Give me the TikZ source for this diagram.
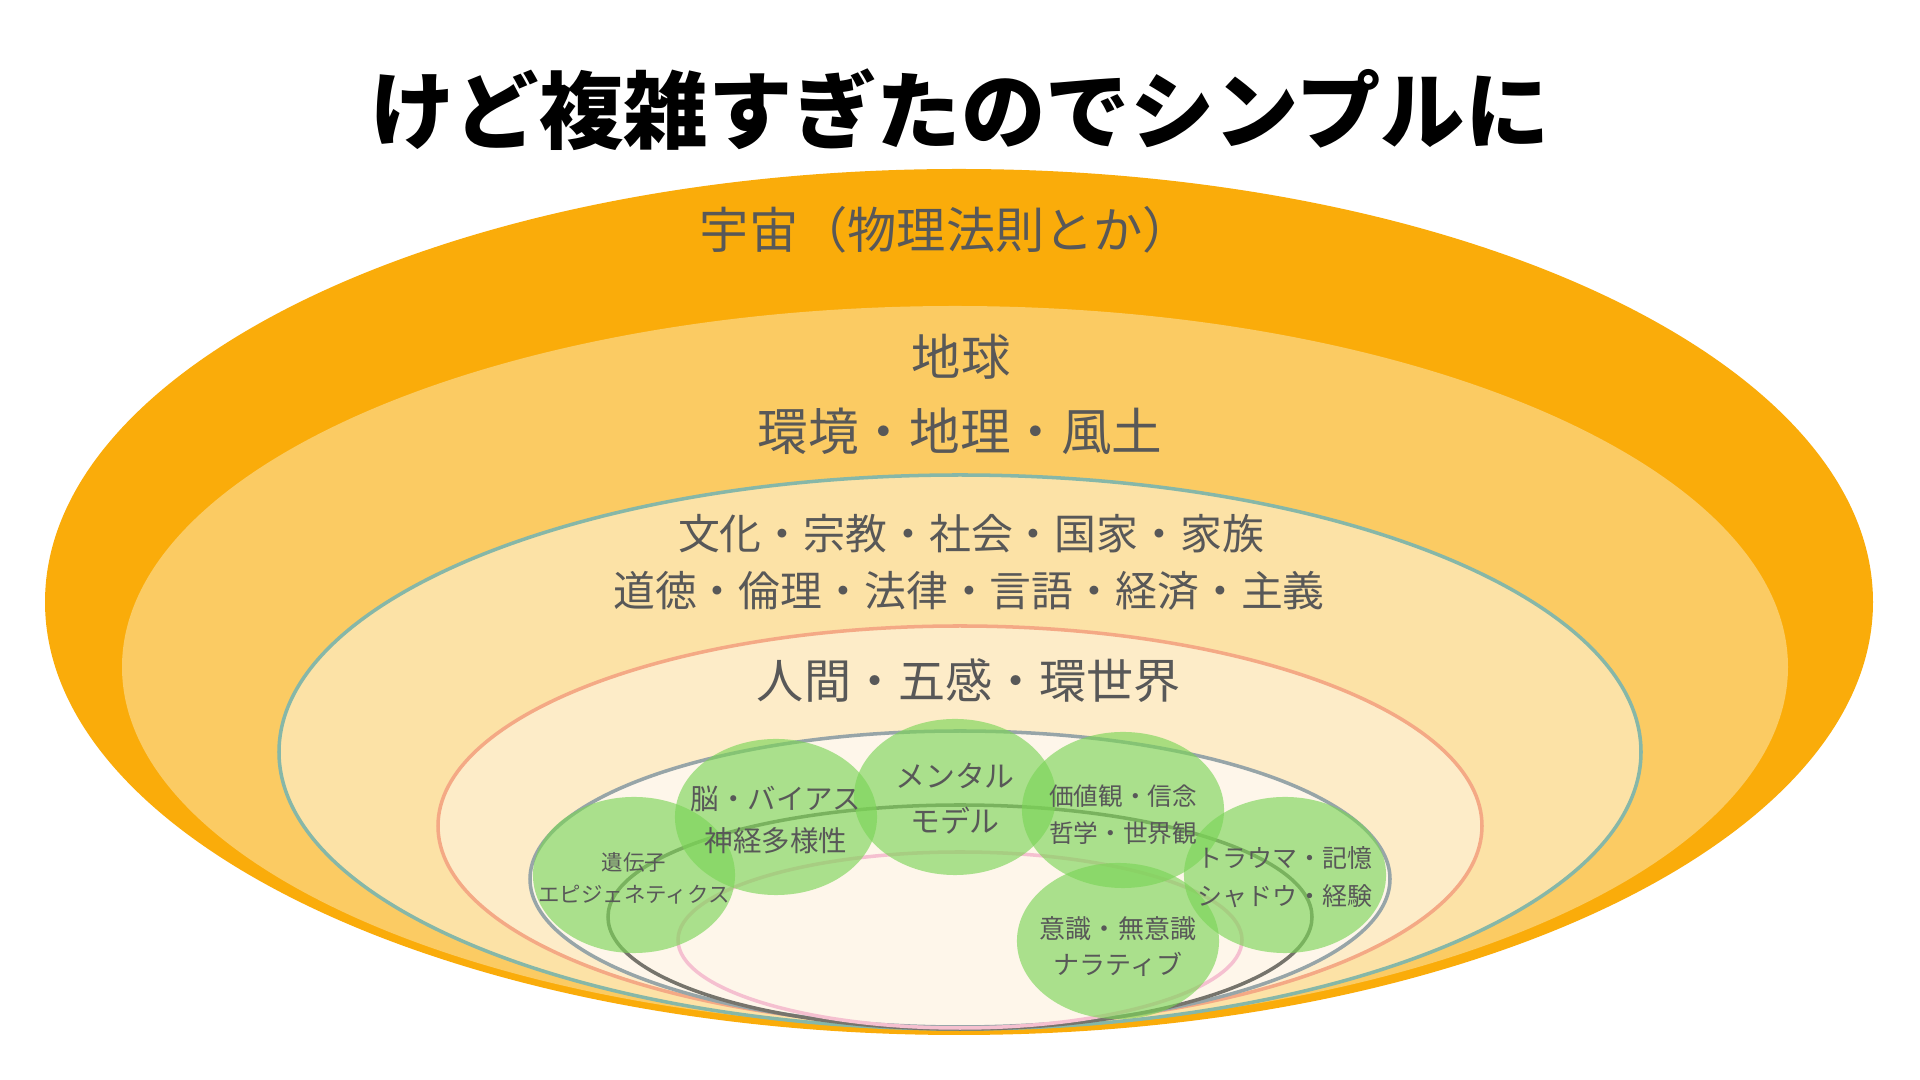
\documentclass[tikz,border=0pt]{standalone}
\usepackage{fontspec}
\setmainfont{Noto Sans CJK JP}
\usepackage{tikz}
\usetikzlibrary{shapes.geometric}
\definecolor{uchuu}{RGB}{250,172,10}
\definecolor{chikyuu}{RGB}{251,203,99}
\definecolor{bunka}{RGB}{252,226,166}
\definecolor{ningen}{RGB}{253,236,200}
\definecolor{kokoro}{RGB}{254,246,234}
\definecolor{tealrim}{RGB}{134,183,168}
\definecolor{salmonrim}{RGB}{244,169,133}
\definecolor{grayrim}{RGB}{151,165,168}
\definecolor{darkrim}{RGB}{118,116,108}
\definecolor{pinkrim}{RGB}{245,192,208}
\definecolor{blobgreen}{RGB}{123,213,87}
\definecolor{inkgray}{RGB}{88,88,88}

\begin{document}
\begin{tikzpicture}[x=0.01cm,y=-0.01cm,
  rim/.style={line width=1pt},
  lbl/.style={text=inkgray, inner sep=0pt},
  blob/.style={ellipse, fill=blobgreen, fill opacity=0.64,
    minimum width=2.02cm, minimum height=1.56cm, inner sep=0pt},
  blobtext/.style={text=inkgray, inner sep=0pt, align=center}]
%-------->frame<--------------
\fill[white] (0,0) rectangle (1920,1080);
\useasboundingbox (0,0) rectangle (1920,1080);
%-------->layers<--------------
\fill[uchuu] (959,602) ellipse [x radius=914, y radius=433]; % universe
\fill[chikyuu] (955,667) ellipse [x radius=833, y radius=361]; % earth
\filldraw[fill=bunka, draw=tealrim, rim] (960,752) ellipse [x radius=681, y radius=277]; % culture
\filldraw[fill=ningen, draw=salmonrim, rim] (960,826) ellipse [x radius=522, y radius=200]; % human
\filldraw[fill=kokoro, draw=grayrim, rim] (960,879) ellipse [x radius=430, y radius=148]; % mind
\draw[darkrim, rim] (960,917) ellipse [x radius=352, y radius=112];
\draw[pinkrim, rim] (960,940) ellipse [x radius=282, y radius=88];
%-------->title<--------------
\node[inner sep=0pt, font=\fontsize{24pt}{28pt}\selectfont\bfseries] (title) at (960,110)
  {けど複雑すぎたのでシンプルに};
%-------->layer labels<--------------
\node[lbl, font=\fontsize{14pt}{16pt}\selectfont] (uchuu) at (946,230) {宇宙（物理法則とか）};
\node[lbl, font=\fontsize{14pt}{16pt}\selectfont] (chikyuu) at (961,357) {地球};
\node[lbl, font=\fontsize{14.4pt}{16pt}\selectfont] (fuudo) at (960,431) {環境・地理・風土};
\node[lbl, font=\fontsize{11.9pt}{14pt}\selectfont] (bunka) at (971,534) {文化・宗教・社会・国家・家族};
\node[lbl, font=\fontsize{11.9pt}{14pt}\selectfont] (dotoku) at (969,591) {道徳・倫理・法律・言語・経済・主義};
\node[lbl, font=\fontsize{13.4pt}{16pt}\selectfont] (ningen) at (969,681) {人間・五感・環世界};
%-------->green blobs<--------------
\node[blob] (idenshi) at (634,875) {};
\node[blob] (nou) at (776,817) {};
\node[blob] (mental) at (955,797) {};
\node[blob] (kachikan) at (1123,810) {};
\node[blob] (ishiki) at (1118,941) {};
\node[blob] (trauma) at (1285,875) {};
%-------->blob texts<--------------
\node[blobtext, font=\fontsize{6.1pt}{9pt}\selectfont] (idenshi-t) at ([yshift=-1pt]idenshi) {遺伝子\\エピジェネティクス};
\node[blobtext, font=\fontsize{8.1pt}{12pt}\selectfont] (nou-t) at ([yshift=-0.9pt]nou) {脳・バイアス\\神経多様性};
\node[blobtext, font=\fontsize{8.5pt}{13pt}\selectfont] (mental-t) at ([yshift=-0.5pt]mental) {メンタル\\モデル};
\node[blobtext, font=\fontsize{7pt}{10.5pt}\selectfont] (kachikan-t) at ([yshift=-1.4pt]kachikan) {価値観・信念\\哲学・世界観};
\node[blobtext, font=\fontsize{7.4pt}{10.5pt}\selectfont] (ishiki-t) at ([yshift=-1.6pt]ishiki) {意識・無意識\\ナラティブ};
\node[blobtext, font=\fontsize{7.1pt}{10.8pt}\selectfont] (trauma-t) at ([yshift=-0.7pt]trauma) {トラウマ・記憶\\シャドウ・経験};
\end{tikzpicture}
\end{document}
